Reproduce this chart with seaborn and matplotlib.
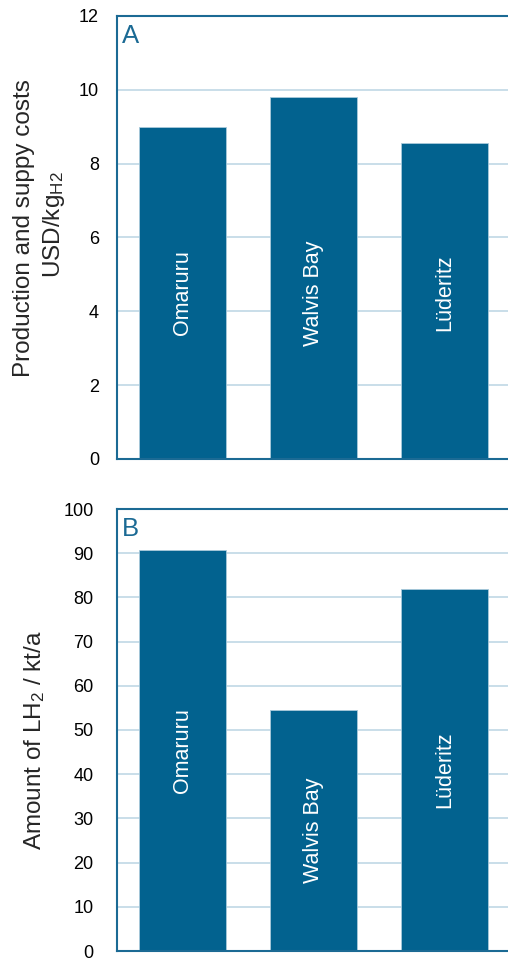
import matplotlib
matplotlib.use("Agg")
import matplotlib.pyplot as plt
import matplotlib.transforms as mtransforms
import seaborn as sns
import pandas as pd

# ---- data ----
sites = ["Omaruru", "Walvis Bay", "Lüderitz"]
costs_usd_per_kg = [9.0, 9.8, 8.55]
amount_kt_per_a = [90.7, 54.5, 82.0]
cost_ticks = [0, 2, 4, 6, 8, 10, 12]
amount_ticks = [0, 10, 20, 30, 40, 50, 60, 70, 80, 90, 100]
panel_letters = ["A", "B"]
ylabel_A_line1 = "Production and suppy costs"
ylabel_A_line2 = "USD/kg$_{\\mathrm{H2}}$"
ylabel_B = "Amount of LH$_2$ / kt/a"

# ---- style ----
sns.set_style("white")
plt.rcParams["font.family"] = ["Liberation Sans", "DejaVu Sans"]
plt.rcParams["mathtext.fontset"] = "custom"
plt.rcParams["mathtext.rm"] = "Liberation Sans"
plt.rcParams["mathtext.it"] = "Liberation Sans:italic"
plt.rcParams["mathtext.bf"] = "Liberation Sans:bold"

BAR = "#02628f"
SPINE = "#1b6a94"
GRID = "#c5dbe7"
EDGE = "#a9cadb"

W, H = 508, 958
fig = plt.figure(figsize=(W / 100, H / 100), dpi=100)


def px_axes(left, top, right, bottom):
    return fig.add_axes([left / W, 1 - bottom / H, (right - left) / W, (bottom - top) / H])


axA = px_axes(117, 16, 510, 459)
axB = px_axes(117, 509, 510, 951)


def draw(ax, values, ticks, letter, label_mode, pad):
    df = pd.DataFrame({"site": sites, "value": values})
    sns.barplot(data=df, x="site", y="value", ax=ax, color=BAR, saturation=1,
                width=0.665, edgecolor=EDGE, linewidth=0.6, errorbar=None)
    ax.set_ylim(ticks[0], ticks[-1])
    ax.set_yticks(ticks)
    ax.set_yticklabels([str(t) for t in ticks])
    ax.set_xticks([])
    ax.set_xlabel("")
    ax.set_ylabel("")
    ax.grid(axis="y", color=GRID, lw=1.3)
    ax.grid(axis="x", visible=False)
    ax.set_axisbelow(True)
    for side in ["left", "bottom", "top"]:
        ax.spines[side].set_color(SPINE)
        ax.spines[side].set_linewidth(1.5)
        ax.spines[side].set_visible(True)
    ax.spines["right"].set_visible(False)
    ax.tick_params(axis="y", length=0, pad=pad, labelsize=13, labelcolor="black")
    ax.text(0.013, 0.982, letter, transform=ax.transAxes, ha="left", va="top",
            fontsize=18.5, color=SPINE)
    if label_mode == "fixed":
        tr = mtransforms.blended_transform_factory(ax.transData, ax.transAxes)
        for i, s in enumerate(sites):
            ax.text(i, 0.375, s, transform=tr, rotation=90, ha="center", va="center",
                    color="white", fontsize=15.5)
    else:
        for i, (s, v) in enumerate(zip(sites, values)):
            ax.text(i, v / 2, s, rotation=90, ha="center", va="center",
                    color="white", fontsize=15.5)


draw(axA, costs_usd_per_kg, cost_ticks, panel_letters[0], "fixed", 13)
draw(axB, amount_kt_per_a, amount_ticks, panel_letters[1], "mid", 17)

fig.text(24 / W, 1 - 228 / H, ylabel_A_line1, rotation=90, ha="center", va="center",
         fontsize=17.5)
fig.text(54 / W, 1 - 225 / H, ylabel_A_line2, rotation=90, ha="center", va="center",
         fontsize=17.5)
fig.text(35 / W, 1 - 740 / H, ylabel_B, rotation=90, ha="center", va="center",
         fontsize=17.5)

fig.savefig("out.png", dpi=100)
